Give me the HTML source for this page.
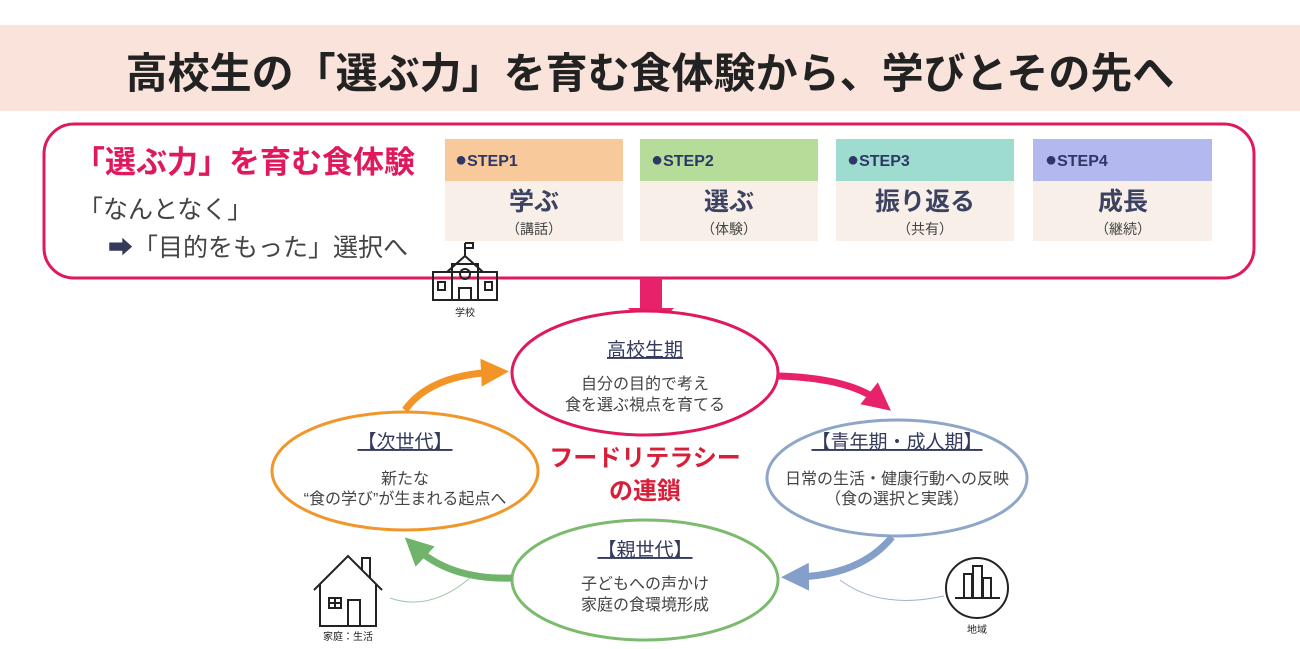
<!DOCTYPE html>
<html><head><meta charset="utf-8"><style>
html,body{margin:0;padding:0;background:#fff;width:1300px;height:649px;overflow:hidden}
svg{display:block;font-family:"Liberation Sans","Noto Sans CJK JP",sans-serif}
</style></head><body>
<svg width="1300" height="649" viewBox="0 0 1300 649" xmlns="http://www.w3.org/2000/svg">
<defs>
<marker id="mp" markerWidth="4" markerHeight="4" refX="2" refY="2" orient="auto" markerUnits="strokeWidth"><path d="M0,0 L4,2 L0,4 Z" fill="#e8226a"/></marker>
<marker id="mo" markerWidth="4" markerHeight="4" refX="2" refY="2" orient="auto" markerUnits="strokeWidth"><path d="M0,0 L4,2 L0,4 Z" fill="#f39426"/></marker>
<marker id="mg" markerWidth="4" markerHeight="4" refX="2" refY="2" orient="auto" markerUnits="strokeWidth"><path d="M0,0 L4,2 L0,4 Z" fill="#6fb46a"/></marker>
<marker id="mb" markerWidth="4" markerHeight="4" refX="2" refY="2" orient="auto" markerUnits="strokeWidth"><path d="M0,0 L4,2 L0,4 Z" fill="#849fc9"/></marker>
</defs>
<rect x="0" y="25" width="1300" height="86" fill="#f9e3da"/>
<text x="650" y="88" text-anchor="middle" font-size="42" font-weight="bold" fill="#222">高校生の「選ぶ力」を育む食体験から、学びとその先へ</text>

<rect x="44" y="124" width="1210" height="154" rx="30" fill="#fff" stroke="#e0185d" stroke-width="3"/>
<text x="74" y="173" font-size="31" font-weight="bold" fill="#e0185d">「選ぶ力」を育む食体験</text>
<text x="78" y="218" font-size="25" fill="#444">「なんとなく」</text>
<text x="108" y="256" font-size="25" fill="#444"><tspan fill="#333a5c">➡</tspan>「目的をもった」選択へ</text>

<g font-weight="bold">
<rect x="445" y="139" width="178" height="42" fill="#f8c99a"/><rect x="445" y="181" width="178" height="60" fill="#f8f0e8"/>
<rect x="640" y="139" width="178" height="42" fill="#b6dc9a"/><rect x="640" y="181" width="178" height="60" fill="#f8f0e8"/>
<rect x="836" y="139" width="178" height="42" fill="#9fdcd0"/><rect x="836" y="181" width="178" height="60" fill="#f8f0e8"/>
<rect x="1033" y="139" width="179" height="42" fill="#b3b8ee"/><rect x="1033" y="181" width="179" height="60" fill="#f8f0e8"/>
<g font-size="16" fill="#2e3766">
<text x="455" y="166"><tspan font-size="20">●</tspan>STEP1</text><text x="651" y="166"><tspan font-size="20">●</tspan>STEP2</text><text x="847" y="166"><tspan font-size="20">●</tspan>STEP3</text><text x="1045" y="166"><tspan font-size="20">●</tspan>STEP4</text>
</g>
<g font-size="25" fill="#3c4262" text-anchor="middle">
<text x="534" y="210">学ぶ</text><text x="729" y="210">選ぶ</text><text x="925" y="210">振り返る</text><text x="1123" y="210">成長</text>
</g>
</g>
<g font-size="14" fill="#444" text-anchor="middle">
<text x="534" y="234">（講話）</text><text x="729" y="234">（体験）</text><text x="925" y="234">（共有）</text><text x="1123" y="234">（継続）</text>
</g>

<rect x="640" y="278" width="22" height="32" fill="#e8226a"/>
<path d="M628,308 L674,308 L651,332 Z" fill="#e8226a"/>

<g fill="none" stroke="#222" stroke-width="2">
<line x1="465" y1="243" x2="465" y2="256"/><path d="M465,243 h8 v5 h-8" />
<path d="M447,272 L465,256 L483,272"/>
<rect x="433" y="272" width="64" height="28"/>
<rect x="452" y="264" width="26" height="36"/>
<circle cx="465" cy="274" r="5"/>
<rect x="438" y="282" width="7" height="8"/><rect x="485" y="282" width="7" height="8"/>
<rect x="459" y="288" width="12" height="12"/>
</g>
<text x="465" y="316" font-size="10" text-anchor="middle" fill="#222">学校</text>

<ellipse cx="645" cy="373" rx="133" ry="62" fill="#fff" stroke="#e0185d" stroke-width="3"/>
<ellipse cx="897" cy="478" rx="130" ry="58" fill="#fff" stroke="#8ea6c8" stroke-width="3"/>
<ellipse cx="645" cy="580" rx="133" ry="60" fill="#fff" stroke="#7cba6e" stroke-width="3"/>
<ellipse cx="405" cy="471" rx="133" ry="59" fill="#fff" stroke="#f0962a" stroke-width="3"/>

<path d="M778,376 Q850,378 880,402" fill="none" stroke="#e8226a" stroke-width="7" marker-end="url(#mp)"/>
<path d="M405,410 Q430,375 495,372" fill="none" stroke="#f39426" stroke-width="7" marker-end="url(#mo)"/>
<path d="M512,578 Q450,580 415,547" fill="none" stroke="#6fb46a" stroke-width="7" marker-end="url(#mg)"/>
<path d="M892,537 Q860,576 795,577" fill="none" stroke="#849fc9" stroke-width="7" marker-end="url(#mb)"/>

<g text-anchor="middle" fill="#444">
<text x="645" y="356" font-size="19" text-decoration="underline" fill="#333a5c">高校生期</text>
<text x="645" y="389" font-size="16">自分の目的で考え</text>
<text x="645" y="410" font-size="16">食を選ぶ視点を育てる</text>
<text x="897" y="448" font-size="19" text-decoration="underline" fill="#333a5c">【青年期・成人期】</text>
<text x="897" y="484" font-size="16">日常の生活・健康行動への反映</text>
<text x="897" y="504" font-size="16">（食の選択と実践）</text>
<text x="645" y="556" font-size="19" text-decoration="underline" fill="#333a5c">【親世代】</text>
<text x="645" y="589" font-size="16">子どもへの声かけ</text>
<text x="645" y="610" font-size="16">家庭の食環境形成</text>
<text x="405" y="448" font-size="19" text-decoration="underline" fill="#333a5c">【次世代】</text>
<text x="405" y="484" font-size="16">新たな</text>
<text x="405" y="504" font-size="16">“食の学び”が生まれる起点へ</text>
<text x="645" y="466" font-size="24" font-weight="bold" fill="#d81f3a">フードリテラシー</text>
<text x="645" y="499" font-size="24" font-weight="bold" fill="#d81f3a">の連鎖</text>
</g>

<g fill="none" stroke="#222" stroke-width="2">
<path d="M314,590 L348,556 L382,590"/>
<path d="M320,584 V626 H376 V584"/>
<path d="M362,570 V558 H370 V578"/>
<rect x="329" y="598" width="12" height="10"/><line x1="335" y1="598" x2="335" y2="608"/><line x1="329" y1="603" x2="341" y2="603"/>
<path d="M348,626 V600 H360 V626"/>
</g>
<text x="348" y="640" font-size="10" text-anchor="middle" fill="#222">家庭：生活</text>
<path d="M390,598 Q430,612 470,578" fill="none" stroke="#9cc8a8" stroke-width="1"/>

<g fill="none" stroke="#222" stroke-width="2">
<ellipse cx="977" cy="588" rx="31" ry="30"/>
<rect x="964" y="574" width="8" height="24"/><rect x="973" y="566" width="9" height="32"/><rect x="983" y="578" width="8" height="20"/>
<line x1="955" y1="598" x2="1000" y2="598"/>
</g>
<text x="977" y="633" font-size="10" text-anchor="middle" fill="#222">地域</text>
<path d="M840,580 Q880,610 944,596" fill="none" stroke="#9fb3cc" stroke-width="1"/>
</svg>
</body></html>
